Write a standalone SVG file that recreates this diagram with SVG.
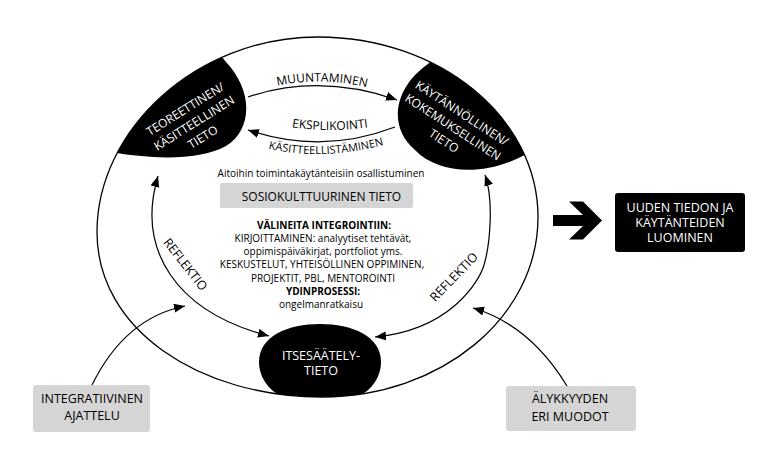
<svg xmlns="http://www.w3.org/2000/svg" width="780" height="474" viewBox="0 0 780 474">
<defs>
<style>
text{font-family:"Open Sans","Liberation Sans",Arial,sans-serif;fill:#000;text-anchor:middle}
.w{fill:#fff}
.b{font-weight:bold}
.s10{font-size:10px}
.s11{font-size:11px}
.s12{font-size:12px}
.s125{font-size:12.5px}
.ln{fill:none;stroke:#000;stroke-width:1.2}
.gray{fill:#d5d5d5}
</style>
<marker id="ah" markerUnits="userSpaceOnUse" markerWidth="12" markerHeight="10" refX="11" refY="4.5" orient="auto-start-reverse"><path d="M0,0 L11,4.5 L0,9 Z" fill="#000"/></marker>
<clipPath id="oc"><path d="M318,37 C440,37 538,118 538,217 C538,318 440,397 322,397 C200,397 97,330 97,232 C97,130 196,37 318,37 Z"/></clipPath>
<path id="tp1" d="M252,93 Q321,69 392,95"/>
<path id="tp2" d="M262,121 Q330,139 398,121"/>
<path id="tp3" d="M258,146 Q322,164 394,142"/>
</defs>

<g id="outer-cycle">
<path d="M318,37 C440,37 538,118 538,217 C538,318 440,397 322,397 C200,397 97,330 97,232 C97,130 196,37 318,37 Z" fill="none" stroke="#000" stroke-width="1.3"/>
</g>

<g id="teoreettinen">
<path clip-path="url(#oc)" d="M100,150 C140,158 195,163 226,146 C252,130 254,92 226,62 L200,30 L60,60 L60,150 Z" fill="#000"/>
<g transform="translate(194,123) rotate(-32)">
<text class="w s12" x="0" y="-12.2">TEOREETTINEN/</text>
<text class="w s12" x="0" y="4.3">KÄSITTEELLINEN</text>
<text class="w s12" x="0" y="20.8">TIETO</text>
</g>
</g>

<g id="kaytannollinen">
<path clip-path="url(#oc)" d="M445,45 L428,64 C396,86 386,125 415,150 C440,176 490,176 530,152 L560,150 L540,50 Z" fill="#000"/>
<g transform="translate(453,127) rotate(33)">
<text class="w s12" x="0" y="-12.2">KÄYTÄNNÖLLINEN/</text>
<text class="w s12" x="0" y="4.3">KOKEMUKSELLINEN</text>
<text class="w s12" x="0" y="20.8">TIETO</text>
</g>
</g>

<g id="itsesaately">
<path clip-path="url(#oc)" d="M259,362 C259,336 288,324 320,324 C352,324 381,336 381,362 C381,385 360,405 320,405 C280,405 259,385 259,362 Z" fill="#000"/>
<text class="w s125" x="321" y="360">ITSESÄÄTELY-</text>
<text class="w s125" x="321" y="375">TIETO</text>
</g>

<g id="sosiokulttuurinen">
<text class="s10" x="321" y="177">Aitoihin toimintakäytänteisiin osallistuminen</text>
<rect class="gray" x="220" y="183" width="193" height="25" rx="2"/>
<text class="s12" x="321.5" y="200.5">SOSIOKULTTUURINEN TIETO</text>
</g>

<g id="valineita">
<text class="s10 b" x="324" y="228.5">VÄLINEITA INTEGROINTIIN:</text>
<text class="s10" x="323" y="241.8">KIRJOITTAMINEN: analyytiset tehtävät,</text>
<text class="s10" x="323" y="255.1">oppimispäiväkirjat, portfoliot yms.</text>
<text class="s10" x="322" y="268.4">KESKUSTELUT, YHTEISÖLLINEN OPPIMINEN,</text>
<text class="s10" x="323" y="281.7">PROJEKTIT, PBL, MENTOROINTI</text>
<text class="s10 b" x="323" y="295">YDINPROSESSI:</text>
<text class="s10" x="321" y="308.3">ongelmanratkaisu</text>
</g>

<g id="integratiivinen">
<rect class="gray" x="33" y="385" width="117" height="47" rx="3"/>
<text class="s125" x="92" y="403.3">INTEGRATIIVINEN</text>
<text class="s125" x="92" y="420.3">AJATTELU</text>
</g>

<g id="alykkyyden">
<rect class="gray" x="506" y="386" width="130" height="45" rx="3"/>
<text class="s125" x="570" y="403.3">ÄLYKKYYDEN</text>
<text class="s125" x="570" y="420.5">ERI MUODOT</text>
</g>

<g id="uuden-tiedon">
<rect x="615" y="193" width="130" height="59" rx="3" fill="#000"/>
<text class="w s125" x="680" y="211.7">UUDEN TIEDON JA</text>
<text class="w s125" x="680" y="226.6">KÄYTÄNTEIDEN</text>
<text class="w s125" x="680" y="241.6">LUOMINEN</text>
</g>

<g id="connectors">
<path class="ln" d="M248,97 Q320,73 397,100" marker-end="url(#ah)"/>
<path class="ln" d="M395,127 Q322,155 248,130" marker-end="url(#ah)"/>
<path class="ln" d="M158,176 C136,250 176,312 269,336" marker-start="url(#ah)" marker-end="url(#ah)"/>
<path class="ln" d="M485,175 C494,200 490,245 484,265 C479,282 450,330 375,337" marker-start="url(#ah)" marker-end="url(#ah)"/>
<path class="ln" d="M92,385 Q125,318 185,306" marker-end="url(#ah)"/>
<path class="ln" d="M567,386 Q530,325 473,308" marker-end="url(#ah)"/>
<polygon points="553,215 583,215 569,201.5 583,201.5 602,220.5 583,239.5 569,239.5 583,226 553,226" fill="#000"/>
</g>

<g id="connector-labels">
<text class="s12"><textPath href="#tp1" startOffset="50%">MUUNTAMINEN</textPath></text>
<text class="s12"><textPath href="#tp2" startOffset="50%">EKSPLIKOINTI</textPath></text>
<text class="s11"><textPath href="#tp3" startOffset="50%">KÄSITTEELLISTÄMINEN</textPath></text>
<text class="s125" transform="translate(182,267) rotate(52)">REFLEKTIO</text>
<text class="s125" transform="translate(457,280) rotate(-46)">REFLEKTIO</text>
</g>
</svg>
